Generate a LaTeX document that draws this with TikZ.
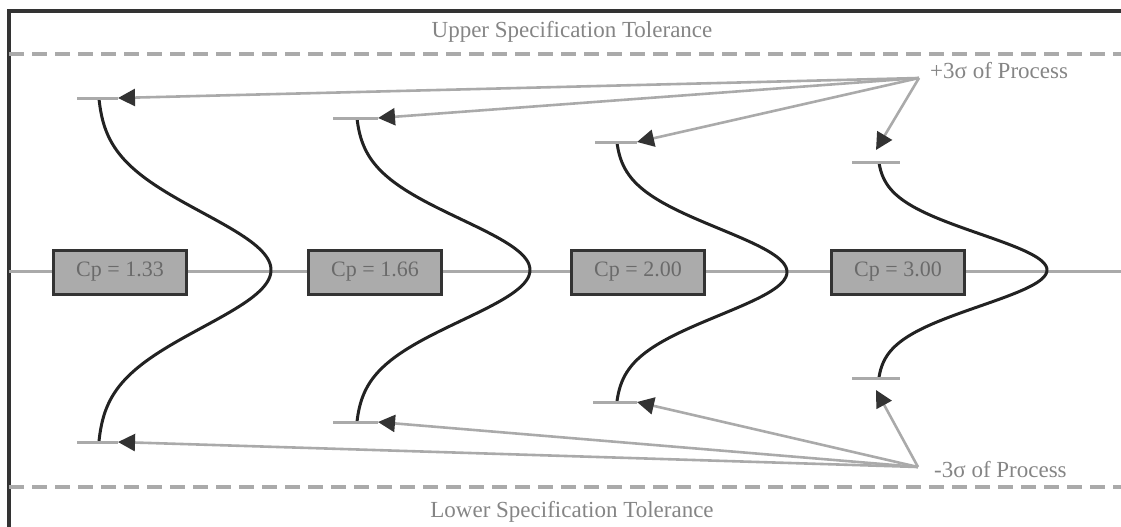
\documentclass[tikz,border=0pt]{standalone}
\usepackage{fontspec}
\setmainfont{Liberation Serif}
\usetikzlibrary{arrows.meta}
\definecolor{framec}{HTML}{333333}
\definecolor{linec}{HTML}{AAAAAA}
\definecolor{curvec}{HTML}{222222}
\definecolor{boxc}{HTML}{ABABAB}
\definecolor{textc}{HTML}{858585}
\definecolor{boxtextc}{HTML}{6A6A6A}
\tikzset{
  frameline/.style={draw=framec,line width=3.2pt},
  guide/.style={draw=linec,line width=3pt},
  speclim/.style={draw=linec,line width=3.5pt,dash pattern=on 15pt off 8pt},
  bell/.style={draw=curvec,line width=3pt},
  tick/.style={draw=linec,line width=3pt},
  pointer/.style={draw=linec,line width=2.6pt,-{Triangle[length=17pt,width=17pt,color=framec]}},
  cpbox/.style={draw=framec,fill=boxc,line width=3pt,minimum width=133pt,minimum height=44pt,inner sep=0pt,text=boxtextc,font=\fontsize{22}{24}\selectfont},
  lbl/.style={text=textc,font=\fontsize{23}{26}\selectfont,inner sep=0pt}
}
\begin{document}
\begin{tikzpicture}[x=1pt,y=-1pt]
\useasboundingbox (0,0) rectangle (1121,527);
% frame
\draw[frameline] (9,527) -- (9,11) -- (1121,11);
% spec limits
\draw[speclim] (9,54) -- (1121,54);
\draw[speclim] (9,487) -- (1121,487);
\node[lbl] (usl) at (572,32) {Upper Specification Tolerance};
\node[lbl] (lsl) at (572,512) {Lower Specification Tolerance};
% center line
\draw[guide] (9,271) -- (1121,271);
% boxes
\node[cpbox] (b1) at (120,272) {Cp = 1.33};
\node[cpbox] (b2) at (375,272) {Cp = 1.66};
\node[cpbox] (b3) at (638,272) {Cp = 2.00};
\node[cpbox] (b4) at (898,272) {Cp = 3.00};
% bell curves
\draw[bell] plot[domain=-3:3,samples=80,smooth,variable=\t] ({97+174*exp(-\t*\t/2)},{270+57.3*\t});
\draw[bell] plot[domain=-3:3,samples=80,smooth,variable=\t] ({355+175*exp(-\t*\t/2)},{270+50.7*\t});
\draw[bell] plot[domain=-3:3,samples=80,smooth,variable=\t] ({615+172*exp(-\t*\t/2)},{272+43.3*\t});
\draw[bell] plot[domain=-3:3,samples=80,smooth,variable=\t] ({877+170*exp(-\t*\t/2)},{270+36*\t});
% tick coordinates
\coordinate (t1l) at (77,98);   \coordinate (t1) at (118,98);
\coordinate (t2l) at (333,118); \coordinate (t2) at (378,118);
\coordinate (t3l) at (595,142); \coordinate (t3) at (637,142);
\coordinate (t4l) at (852,162); \coordinate (t4r) at (900,162); \coordinate (t4) at (876,150);
\coordinate (l1l) at (77,442);  \coordinate (l1) at (118,442);
\coordinate (l2l) at (333,422); \coordinate (l2) at (378,422);
\coordinate (l3l) at (593,402); \coordinate (l3) at (637,402);
\coordinate (l4l) at (852,378); \coordinate (l4r) at (900,378); \coordinate (l4) at (876,390);
\draw[tick] (t1l) -- (t1);
\draw[tick] (t2l) -- (t2);
\draw[tick] (t3l) -- (t3);
\draw[tick] (t4l) -- (t4r);
\draw[tick] (l1l) -- (l1);
\draw[tick] (l2l) -- (l2);
\draw[tick] (l3l) -- (l3);
\draw[tick] (l4l) -- (l4r);
% sigma labels
\coordinate (up) at (919,78);
\coordinate (lo) at (918,467);
\node[lbl,anchor=west] (plus) at (930,71) {+3σ of Process};
\node[lbl,anchor=west] (minus) at (934,470) {-3σ of Process};
\draw[pointer] (up) -- (t1);
\draw[pointer] (up) -- (t2);
\draw[pointer] (up) -- (t3);
\draw[pointer] (up) -- (t4);
\draw[pointer] (lo) -- (l1);
\draw[pointer] (lo) -- (l2);
\draw[pointer] (lo) -- (l3);
\draw[pointer] (lo) -- (l4);
\end{tikzpicture}
\end{document}
